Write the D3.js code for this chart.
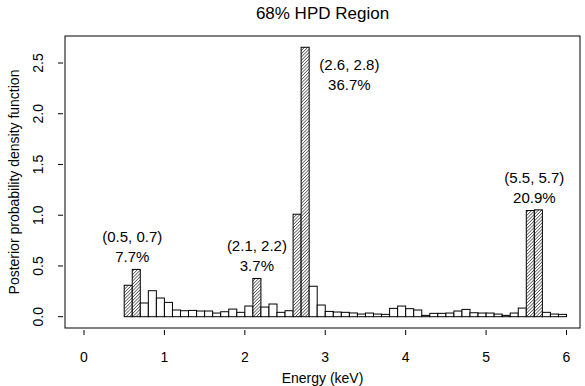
<!DOCTYPE html>
<html>
<head>
<meta charset="utf-8">
<script src="https://cdn.jsdelivr.net/npm/d3@7"></script>
<style>
  body { margin: 0; background: #fff; }
  svg text { font-family: "Liberation Sans", Arial, Helvetica, sans-serif; fill: #000; }
</style>
</head>
<body>
<div id="chart"></div>
<script>
// posterior density per 0.1 keV bin, bins start at 0.5 keV
var binStart = 0.5;
var binWidth = 0.1;
var density = [
  0.31, 0.466, 0.135, 0.256, 0.184, 0.141, 0.066, 0.059, 0.062, 0.056,
  0.056, 0.036, 0.049, 0.075, 0.043, 0.105, 0.377, 0.095, 0.125, 0.043,
  0.059, 1.01, 2.655, 0.30, 0.115, 0.052, 0.046, 0.043, 0.037, 0.026,
  0.036, 0.026, 0.023, 0.082, 0.105, 0.079, 0.066, 0.013, 0.033, 0.033,
  0.036, 0.056, 0.072, 0.039, 0.036, 0.036, 0.026, 0.013, 0.036, 0.085,
  1.046, 1.053, 0.043, 0.026, 0.023
];
// HPD regions (keV) and their probability
var regionLo = [0.5, 2.1, 2.6, 5.5];
var regionHi = [0.7, 2.2, 2.8, 5.7];
var regionPct = ["7.7%", "3.7%", "36.7%", "20.9%"];
var xTicks = [0, 1, 2, 3, 4, 5, 6];
var yTicks = [0, 0.5, 1, 1.5, 2, 2.5];

var width = 585, height = 386;
var box = { left: 65, right: 580, top: 36, bottom: 328 };

var svg = d3.select("#chart").append("svg")
  .attr("width", width)
  .attr("height", height);

var defs = svg.append("defs");
var pat = defs.append("pattern")
  .attr("id", "hatch")
  .attr("patternUnits", "userSpaceOnUse")
  .attr("width", 2.3)
  .attr("height", 2.3)
  .attr("patternTransform", "rotate(45)");
pat.append("rect").attr("width", 2.3).attr("height", 2.3).attr("fill", "#fff");
pat.append("line")
  .attr("x1", 0).attr("y1", 0).attr("x2", 0).attr("y2", 2.3)
  .attr("stroke", "#222").attr("stroke-width", 1.2);

var x = d3.scaleLinear().domain([0, 6]).range([84, 566.5]);
var y = d3.scaleLinear().domain([0, 2.5]).range([316.7, 63]);

var bins = density.map(function(d, i) {
  var lo = +(binStart + i * binWidth).toFixed(2);
  return { lo: lo, hi: +(lo + binWidth).toFixed(2), value: d };
});

function inRegion(b) {
  for (var k = 0; k < regionLo.length; k++) {
    if (b.lo >= regionLo[k] - 1e-9 && b.hi <= regionHi[k] + 1e-9) return true;
  }
  return false;
}

// bars
svg.append("g").selectAll("rect")
  .data(bins)
  .enter().append("rect")
  .attr("x", function(d) { return x(d.lo); })
  .attr("y", function(d) { return y(d.value); })
  .attr("width", function(d) { return x(d.hi) - x(d.lo); })
  .attr("height", function(d) { return y(0) - y(d.value); })
  .attr("fill", function(d) { return inRegion(d) ? "url(#hatch)" : "#fff"; })
  .attr("stroke", "#000")
  .attr("stroke-width", 1);

// box
svg.append("rect")
  .attr("x", box.left).attr("y", box.top)
  .attr("width", box.right - box.left).attr("height", box.bottom - box.top)
  .attr("fill", "none").attr("stroke", "#000").attr("stroke-width", 1);

// x axis
var xAxis = svg.append("g");
xAxis.selectAll("line").data(xTicks).enter().append("line")
  .attr("x1", function(d) { return x(d); }).attr("x2", function(d) { return x(d); })
  .attr("y1", box.bottom + 2).attr("y2", box.bottom + 7)
  .attr("stroke", "#000");
xAxis.selectAll("text").data(xTicks).enter().append("text")
  .attr("x", function(d) { return x(d); })
  .attr("y", 362)
  .attr("text-anchor", "middle")
  .attr("font-size", 14)
  .text(function(d) { return d; });

// y axis
var yAxis = svg.append("g");
yAxis.selectAll("line").data(yTicks).enter().append("line")
  .attr("x1", box.left - 7).attr("x2", box.left - 2)
  .attr("y1", function(d) { return y(d); }).attr("y2", function(d) { return y(d); })
  .attr("stroke", "#000");
yAxis.selectAll("text").data(yTicks).enter().append("text")
  .attr("transform", function(d) { return "translate(43," + y(d) + ") rotate(-90)"; })
  .attr("text-anchor", "middle")
  .attr("font-size", 14)
  .text(function(d) { return d.toFixed(1); });

// titles
svg.append("text")
  .attr("x", (box.left + box.right) / 2).attr("y", 19)
  .attr("text-anchor", "middle").attr("font-size", 17)
  .text("68% HPD Region");
svg.append("text")
  .attr("x", (box.left + box.right) / 2).attr("y", 383)
  .attr("text-anchor", "middle").attr("font-size", 14)
  .text("Energy (keV)");
svg.append("text")
  .attr("transform", "translate(19," + (box.top + box.bottom) / 2 + ") rotate(-90)")
  .attr("text-anchor", "middle").attr("font-size", 14)
  .text("Posterior probability density function");

// region labels
regionLo.forEach(function(lo, k) {
  var hi = regionHi[k];
  var top = d3.max(bins.filter(function(b) { return b.lo >= lo - 1e-9 && b.hi <= hi + 1e-9; }),
                   function(b) { return b.value; });
  var lx = x((lo + hi) / 2), ly = y(top) - 27;
  if (ly - 20 < box.top) {     // no room above: put it to the right of the peak
    lx = x(hi + 0.5);
    ly = y(top) + 23;
  }
  var g = svg.append("g");
  g.append("text").attr("x", lx).attr("y", ly).attr("text-anchor", "middle")
    .attr("font-size", 15).text("(" + lo.toFixed(1) + ", " + hi.toFixed(1) + ")");
  g.append("text").attr("x", lx).attr("y", ly + 20).attr("text-anchor", "middle")
    .attr("font-size", 15).text(regionPct[k]);
});
</script>
</body>
</html>
